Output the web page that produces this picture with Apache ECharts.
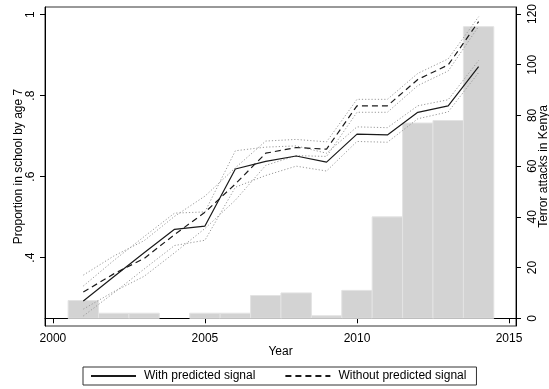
<!DOCTYPE html>
<html>
<head>
<meta charset="utf-8">
<script src="https://cdn.jsdelivr.net/npm/echarts@6/dist/echarts.min.js"></script>
<style>
html,body{margin:0;padding:0;background:#fff;}
#chart{width:549px;height:389px;}
</style>
</head>
<body>
<div id="chart"></div>
<script>
// ---- data ----
const years = [2001,2002,2003,2004,2005,2006,2007,2008,2009,2010,2011,2012,2013,2014];
const withSignal    = [0.293,0.353,0.412,0.470,0.478,0.619,0.638,0.651,0.636,0.705,0.703,0.759,0.775,0.872];
const withUpper     = [0.330,0.393,0.452,0.510,0.513,0.664,0.673,0.676,0.658,0.723,0.721,0.775,0.790,0.887];
const withLower     = [0.256,0.313,0.372,0.430,0.443,0.574,0.603,0.626,0.614,0.687,0.685,0.743,0.760,0.857];
const withoutSignal = [0.315,0.360,0.398,0.457,0.512,0.582,0.658,0.672,0.668,0.775,0.775,0.840,0.876,0.983];
const withoutUpper  = [0.357,0.404,0.442,0.502,0.552,0.622,0.688,0.692,0.686,0.791,0.791,0.855,0.891,0.995];
const withoutLower  = [0.273,0.316,0.354,0.412,0.472,0.542,0.628,0.652,0.650,0.759,0.759,0.825,0.861,0.971];
const attacks       = [7,2,2,0,2,2,9,10,1,11,40,77,78,115];
const xTicks = [2000,2005,2010,2015];
const leftTicks = [0.4,0.6,0.8,1];
const rightTicks = [0,20,40,60,80,100,120];
const seriesNames = ['With predicted signal','Without predicted signal'];
const xTitle = 'Year';
const leftTitle = 'Proportion in school by age 7';
const rightTitle = 'Terror attacks in Kenya';

const FONT = 'Liberation Sans, Arial, Helvetica, sans-serif';
const pair = (arr) => years.map((y,i)=>[y,arr[i]]);

const chart = echarts.init(document.getElementById('chart'), null, {renderer:'canvas'});

function ciSeries(arr){
  return {
    type:'line', data:pair(arr), yAxisIndex:0, symbol:'none', silent:true,
    lineStyle:{color:'#9a9a9a', width:1, type:[1.2,2]}, z:3
  };
}

const option = {
  animation:false,
  backgroundColor:'#fff',
  textStyle:{fontFamily:FONT},
  grid:{left:45, right:33, top:7, bottom:63, show:true, borderColor:'#333', borderWidth:1,
        containLabel:false, outerBoundsMode:'none'},
  xAxis:{
    type:'value', min:1999.74, max:2015.23,
    name:xTitle, nameLocation:'middle', nameGap:20, nameMoveOverlap:false,
    nameTextStyle:{color:'#000', fontSize:12, fontFamily:FONT},
    axisLine:{show:true, lineStyle:{color:'#000', width:1}},
    axisTick:{show:true, length:5, customValues:xTicks, lineStyle:{color:'#000'}},
    axisLabel:{color:'#000', fontSize:12, fontFamily:FONT, margin:7, customValues:xTicks,
               hideOverlap:false, formatter:(v)=>String(v)},
    splitLine:{show:false}
  },
  yAxis:[{
    type:'value', position:'left', min:0.2313, max:1.019,
    name:leftTitle, nameLocation:'middle', nameGap:20, nameRotate:90, nameMoveOverlap:false,
    nameTextStyle:{color:'#000', fontSize:12, fontFamily:FONT},
    axisLine:{show:true, lineStyle:{color:'#000', width:1}},
    axisTick:{show:true, length:5, customValues:leftTicks, lineStyle:{color:'#000'}},
    axisLabel:{color:'#000', fontSize:12, fontFamily:FONT, rotate:90, margin:8, customValues:leftTicks,
      formatter:(v)=>{ if (Math.abs(v-1)<1e-9) return '1'; return String(Math.round(v*10)/10).replace(/^0/,''); }},
    splitLine:{show:false}
  },{
    type:'value', position:'right', min:-3.04, max:122.76,
    name:rightTitle, nameLocation:'middle', nameGap:22, nameRotate:90, nameMoveOverlap:false,
    nameTextStyle:{color:'#000', fontSize:12, fontFamily:FONT},
    axisLine:{show:true, lineStyle:{color:'#000', width:1}},
    axisTick:{show:true, length:5, customValues:rightTicks, lineStyle:{color:'#000'}},
    axisLabel:{color:'#000', fontSize:12, fontFamily:FONT, rotate:90, margin:11, customValues:rightTicks},
    splitLine:{show:false}
  }],
  legend:{
    data:seriesNames,
    left:83, top:367,
    orient:'horizontal',
    itemWidth:45, itemHeight:12, itemGap:29,
    padding:[3,10,3,7],
    borderColor:'#333', borderWidth:1,
    itemStyle:{opacity:0},
    textStyle:{color:'#000', fontSize:12, fontFamily:FONT, padding:[0,0,0,3]},
    selectedMode:false
  },
  series:[
    {
      type:'custom', name:'attacks', yAxisIndex:1, silent:true, z:1,
      data:pair(attacks),
      renderItem:function(params, api){
        const x = api.value(0), v = api.value(1);
        if (!v) return null;
        const p1 = api.coord([x-0.5, v]);
        const p2 = api.coord([x+0.5, 0]);
        return {type:'rect', shape:{x:p1[0], y:p1[1], width:p2[0]-p1[0], height:p2[1]-p1[1]},
          style:{fill:'#d3d3d3', stroke:'#e3e3e3', lineWidth:1}};
      }
    },
    ciSeries(withUpper), ciSeries(withLower), ciSeries(withoutUpper), ciSeries(withoutLower),
    {
      type:'line', name:seriesNames[0], data:pair(withSignal), yAxisIndex:0, symbol:'none', z:5,
      itemStyle:{color:'#1a1a1a'},
      lineStyle:{color:'#1a1a1a', width:1.2, type:'solid'}
    },
    {
      type:'line', name:seriesNames[1], data:pair(withoutSignal), yAxisIndex:0, symbol:'none', z:5,
      itemStyle:{color:'#1a1a1a'},
      lineStyle:{color:'#1a1a1a', width:1.2, type:[6,4]}
    }
  ]
};
chart.setOption(option);
</script>
</body>
</html>
